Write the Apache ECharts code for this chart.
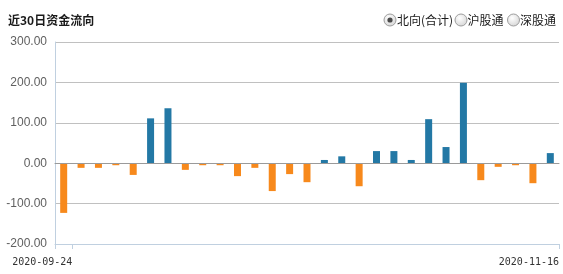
<!DOCTYPE html>
<html>
<head>
<meta charset="utf-8">
<script src="https://cdn.jsdelivr.net/npm/echarts@6/dist/echarts.min.js"></script>
<style>
html,body{margin:0;padding:0;background:#fff;}
#c{width:563px;height:274px;}
</style>
</head>
<body>
<div id="c"></div>
<script>
// Data
const categories = ['2020-09-24','2020-09-25','2020-09-28','2020-09-29','2020-10-09','2020-10-12','2020-10-14','2020-10-15','2020-10-16','2020-10-19','2020-10-20','2020-10-21','2020-10-22','2020-10-23','2020-10-27','2020-10-28','2020-10-29','2020-10-30','2020-11-02','2020-11-03','2020-11-04','2020-11-05','2020-11-06','2020-11-09','2020-11-10','2020-11-11','2020-11-12','2020-11-13','2020-11-16'];
const northValues = [-123, -11.5, -11.5, -5, -29, 111, 136, -16.5, -5, -5, -32, -11.5, -69, -27, -47, 8, 17, -57, 30, 30, 8, 109, 40, 199, -42, -9, -5, -49.5, 25];
const yTicks = [-200, -100, 0, 100, 200, 300];
const legendItems = ['北向(合计)', '沪股通', '深股通'];

const POS = '#2378A5', NEG = '#F7891C';
const chart = echarts.init(document.getElementById('c'), null, {renderer: 'canvas'});

const radioFill = {
  type: 'radial', x: 0.4, y: 0.35, r: 0.7,
  colorStops: [{offset: 0, color: '#ffffff'}, {offset: 1, color: '#d4d4d4'}]
};
const radioX = [390, 461, 513.5];
const textX = [397, 467.5, 520];
const graphic = [];
legendItems.forEach((name, i) => {
  graphic.push({type: 'circle', x: radioX[i], y: 20, shape: {cx: 0, cy: 0, r: 6},
    style: {fill: radioFill, stroke: '#9c9c9c', lineWidth: 1}});
  if (i === 0) {
    graphic.push({type: 'circle', x: radioX[i], y: 20, shape: {cx: 0, cy: 0, r: 2.6},
      style: {fill: '#4a4a4a'}});
  }
  graphic.push({type: 'text', x: textX[i], y: 20,
    style: {text: name, fill: '#1a1a1a', font: '12px "Noto Sans CJK SC"', verticalAlign: 'middle', align: 'left'}});
});

chart.setOption({
  animation: false,
  title: {
    text: '近30日资金流向', left: 8, top: 14, padding: 0,
    textStyle: {fontSize: 12, fontWeight: 'bold', color: '#1a1a1a', fontFamily: '"Noto Sans CJK SC"'}
  },
  graphic: graphic,
  grid: {left: 55, right: 4, top: 42, bottom: 30, containLabel: false},
  xAxis: [{
    type: 'category',
    data: categories,
    boundaryGap: true,
    axisLine: {onZero: true, lineStyle: {color: '#9a9a9a', width: 1}},
    axisTick: {show: false},
    axisLabel: {show: false},
    splitLine: {show: false},
    z: 3
  }, {
    type: 'value',
    position: 'bottom',
    min: 0, max: categories.length,
    axisLine: {show: true, onZero: false, lineStyle: {color: '#C0D0E0'}},
    axisTick: {show: true, length: 5, customValues: [0, 1, categories.length], lineStyle: {color: '#C0D0E0'}},
    axisLabel: {
      show: true, customValues: [1, categories.length], align: 'right', margin: 13,
      fontFamily: '"DejaVu Sans Mono"', fontSize: 10, color: '#333',
      formatter: v => categories[Math.round(v) - 1] || ''
    },
    splitLine: {show: false}
  }],
  yAxis: {
    type: 'value',
    min: yTicks[0], max: yTicks[yTicks.length - 1], interval: 100,
    axisLine: {show: true, lineStyle: {color: '#C0D0E0'}},
    axisTick: {show: false},
    axisLabel: {margin: 8, fontSize: 12, color: '#606060', fontFamily: '"Liberation Sans"',
      formatter: v => v.toFixed(2)},
    splitLine: {lineStyle: {color: '#C0C0C0', width: 1}}
  },
  series: [{
    type: 'bar',
    name: legendItems[0],
    xAxisIndex: 0,
    barWidth: 7,
    data: northValues.map(v => ({value: v, itemStyle: {color: v >= 0 ? POS : NEG}}))
  }]
});
</script>
</body>
</html>
